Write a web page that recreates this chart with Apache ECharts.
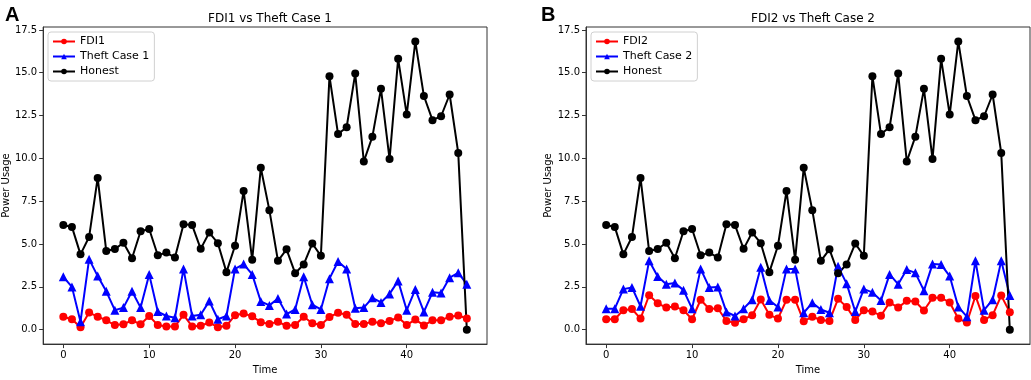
<!DOCTYPE html>
<html>
<head>
<meta charset="utf-8">
<script src="https://cdn.jsdelivr.net/npm/echarts@6/dist/echarts.min.js"></script>
<style>
  html, body { margin: 0; padding: 0; background: #fff; }
  #chart { width: 1031px; height: 380px; }
</style>
</head>
<body>
<div id="chart"></div>
<script>
// 数据
var honest = [6.11, 6.0, 4.40, 5.41, 8.86, 4.59, 4.71, 5.07, 4.17, 5.75, 5.88, 4.35, 4.50, 4.21, 6.15, 6.11,
  4.72, 5.67, 5.05, 3.36, 4.90, 8.10, 4.08, 9.45, 6.98, 4.02, 4.69, 3.30, 3.81, 5.03, 4.31, 14.80,
  11.42, 11.82, 14.95, 9.82, 11.27, 14.06, 9.96, 15.81, 12.56, 16.83, 13.64, 12.23, 12.46, 13.73, 10.32, 0.0];

var fdi1 = [0.76, 0.61, 0.15, 1.0, 0.76, 0.55, 0.27, 0.32, 0.55, 0.32, 0.80, 0.27, 0.19, 0.19, 0.87, 0.19,
  0.23, 0.42, 0.15, 0.23, 0.85, 0.95, 0.78, 0.44, 0.34, 0.46, 0.23, 0.28, 0.76, 0.38, 0.28, 0.74,
  0.99, 0.87, 0.34, 0.34, 0.47, 0.38, 0.51, 0.72, 0.28, 0.59, 0.25, 0.55, 0.55, 0.76, 0.83, 0.66];

var theft1 = [3.09, 2.50, 0.47, 4.12, 3.13, 2.24, 1.14, 1.29, 2.24, 1.29, 3.23, 1.06, 0.80, 0.70, 3.55, 0.80,
  0.87, 1.67, 0.61, 0.80, 3.55, 3.83, 3.23, 1.65, 1.42, 1.82, 0.91, 1.18, 3.09, 1.46, 1.18, 2.98,
  3.98, 3.55, 1.25, 1.29, 1.86, 1.59, 2.09, 2.85, 1.14, 2.35, 1.04, 2.18, 2.14, 3.04, 3.32, 2.66];

var fdi2 = [0.61, 0.61, 1.14, 1.21, 0.65, 2.01, 1.54, 1.29, 1.35, 1.14, 0.61, 1.75, 1.21, 1.25, 0.51, 0.40,
  0.61, 0.85, 1.76, 0.87, 0.65, 1.75, 1.75, 0.49, 0.76, 0.57, 0.51, 1.80, 1.33, 0.57, 1.14, 1.06,
  0.82, 1.59, 1.29, 1.69, 1.65, 1.12, 1.86, 1.86, 1.59, 0.65, 0.42, 1.97, 0.57, 0.85, 1.99, 1.02];

var theft2 = [1.23, 1.23, 2.37, 2.47, 1.37, 4.02, 3.11, 2.66, 2.73, 2.31, 1.23, 3.55, 2.47, 2.50, 1.04, 0.80,
  1.23, 1.75, 3.64, 1.71, 1.33, 3.55, 3.55, 0.99, 1.57, 1.18, 0.99, 3.70, 2.69, 1.06, 2.37, 2.18,
  1.71, 3.23, 2.66, 3.51, 3.32, 2.28, 3.83, 3.80, 3.13, 1.33, 0.76, 4.02, 1.14, 1.75, 4.02, 1.99];

var xTicks = [0, 10, 20, 30, 40];
var yTicks = [0, 2.5, 5, 7.5, 10, 12.5, 15, 17.5];

function pairs(arr) {
  return arr.map(function (v, i) { return [i, v]; });
}

var fontFamily = 'DejaVu Sans';
var frameColor = '#333';

function makeX(idx) {
  return {
    type: 'value',
    gridIndex: idx,
    min: -2.35,
    max: 49.35,
    name: 'Time',
    nameLocation: 'middle',
    nameGap: 19,
    nameTextStyle: {color: '#000', fontSize: 10, fontFamily: fontFamily},
    splitLine: {show: false},
    axisLine: {show: true, onZero: false, lineStyle: {color: frameColor, width: 1}},
    axisTick: {show: true, length: 4, customValues: xTicks, lineStyle: {color: frameColor}},
    axisLabel: {customValues: xTicks, color: '#000', fontSize: 10, fontFamily: fontFamily, margin: 6}
  };
}

function makeY(idx) {
  return {
    type: 'value',
    gridIndex: idx,
    min: -0.84,
    max: 17.67,
    name: 'Power Usage',
    nameLocation: 'middle',
    nameGap: 31,
    nameTextStyle: {color: '#000', fontSize: 10, fontFamily: fontFamily},
    splitLine: {show: false},
    axisLine: {show: true, onZero: false, lineStyle: {color: frameColor, width: 1}},
    axisTick: {show: true, length: 4, customValues: yTicks, lineStyle: {color: frameColor}},
    axisLabel: {
      customValues: yTicks, color: '#000', fontSize: 10, fontFamily: fontFamily, margin: 6,
      formatter: function (v) { return v.toFixed(1); }
    }
  };
}

function makeSeries(name, data, color, symbol, idx) {
  return {
    name: name,
    type: 'line',
    xAxisIndex: idx,
    yAxisIndex: idx,
    data: pairs(data),
    symbol: symbol,
    symbolSize: symbol === 'triangle' ? 9 : 8,
    lineStyle: {color: color, width: 2},
    itemStyle: {color: color},
    emphasis: {disabled: true},
    animation: false
  };
}

function makeLegend(names, left) {
  return {
    data: names,
    orient: 'vertical',
    left: left,
    top: 32,
    itemWidth: 22,
    itemHeight: 7,
    itemGap: 4,
    padding: [4, 5, 4, 4],
    backgroundColor: 'rgba(255,255,255,0.8)',
    borderColor: '#d0d0d0',
    borderWidth: 1,
    borderRadius: 3,
    textStyle: {color: '#000', fontSize: 11, fontFamily: fontFamily},
    selectedMode: false
  };
}

var myChart = echarts.init(document.getElementById('chart'));

var option = {
  backgroundColor: '#fff',
  animation: false,
  title: [
    {text: 'A', left: 0, top: 0, textStyle: {fontSize: 20, fontWeight: 'bold', color: '#000', fontFamily: 'Liberation Sans'}},
    {text: 'B', left: 536, top: 0, textStyle: {fontSize: 20, fontWeight: 'bold', color: '#000', fontFamily: 'Liberation Sans'}},
    {text: 'FDI1 vs Theft Case 1', left: 265, top: 8, textAlign: 'center',
      textStyle: {fontSize: 12, fontWeight: 'normal', color: '#000', fontFamily: fontFamily}},
    {text: 'FDI2 vs Theft Case 2', left: 808, top: 8, textAlign: 'center',
      textStyle: {fontSize: 12, fontWeight: 'normal', color: '#000', fontFamily: fontFamily}}
  ],
  legend: [
    makeLegend(['FDI1', 'Theft Case 1', 'Honest'], 48),
    makeLegend(['FDI2', 'Theft Case 2', 'Honest '], 591)
  ],
  grid: [
    {left: 42, top: 27, width: 445, height: 324, show: true, borderColor: frameColor, borderWidth: 1, backgroundColor: 'transparent'},
    {left: 586, top: 27, width: 444, height: 324, show: true, borderColor: frameColor, borderWidth: 1, backgroundColor: 'transparent'}
  ],
  xAxis: [makeX(0), makeX(1)],
  yAxis: [makeY(0), makeY(1)],
  series: [
    makeSeries('FDI1', fdi1, '#ff0000', 'circle', 0),
    makeSeries('Theft Case 1', theft1, '#0000ff', 'triangle', 0),
    makeSeries('Honest', honest, '#000000', 'circle', 0),
    makeSeries('FDI2', fdi2, '#ff0000', 'circle', 1),
    makeSeries('Theft Case 2', theft2, '#0000ff', 'triangle', 1),
    makeSeries('Honest ', honest, '#000000', 'circle', 1)
  ]
};

myChart.setOption(option);
</script>
</body>
</html>
